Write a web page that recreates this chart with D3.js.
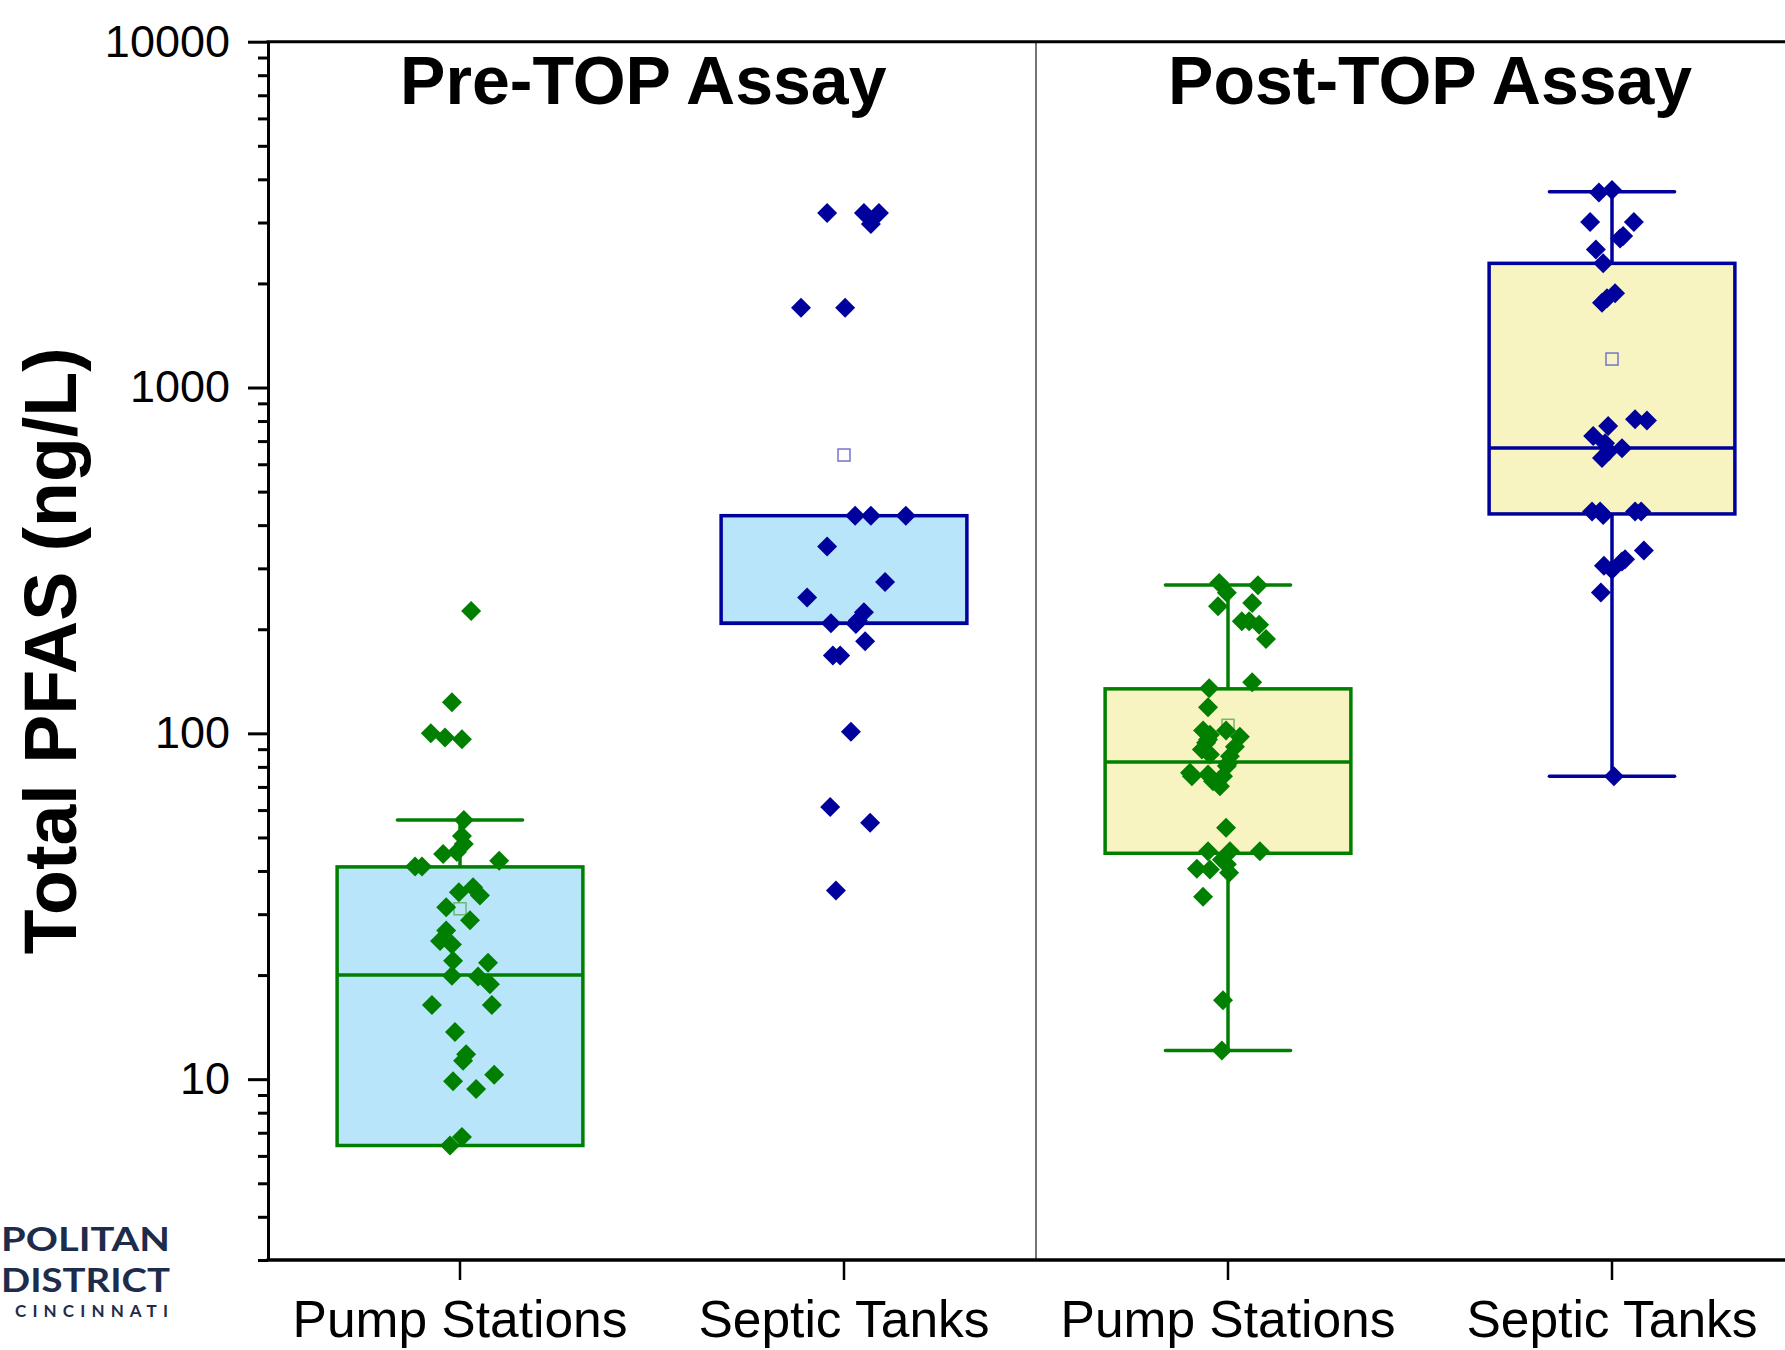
<!DOCTYPE html>
<html>
<head>
<meta charset="utf-8">
<script src="https://cdn.jsdelivr.net/npm/d3@7"></script>
<style>
  html, body { margin: 0; padding: 0; background: #ffffff; }
  svg { display: block; }
</style>
</head>
<body>
<svg id="chart" width="1785" height="1350"></svg>
<script>
// ---------------- DATA ----------------
const groups = ["prePump", "preSeptic", "postPump", "postSeptic"];
const categoryLabels = ["Pump Stations", "Septic Tanks", "Pump Stations", "Septic Tanks"];
const panelTitles = ["Pre-TOP Assay", "Post-TOP Assay"];
const yAxisTitle = "Total PFAS (ng/L)";
const yMajorTicks = [10, 100, 1000, 10000];
const yDomain = [3, 10000];

// box statistics per group (ng/L)
const boxQ1 = [6.43, 208, 45.0, 431];
const boxMedian = [20.0, 208, 82.7, 668];
const boxQ3 = [41.1, 426, 134.5, 2286];
const whiskerLow = [null, null, 12.1, 75.2];
const whiskerHigh = [56.2, null, 268.5, 3680];
const groupMean = [31.1, 638, 105.5, 1209];

// individual samples (ng/L) and their horizontal jitter (percent of category width)
const prePumpValues = [226, 123, 100, 97.3, 96.1, 56.2, 50.5, 47.9, 44.8, 45.4, 41.2, 41.2, 42.8, 34.7, 35.9, 34.0,
  31.4, 28.8, 26.9, 25.1, 24.5, 22.0, 21.7, 19.9, 19.8, 18.8, 16.4, 16.4, 13.7, 11.8, 11.3, 9.86, 10.3, 9.37, 6.80, 6.43];
const prePumpJitter = [2.9, -2.1, -7.6, -3.9, 0.5, 1.0, 0.5, 1.0, -4.4, -0.8, -11.7, -9.9, 10.2, -0.3, 3.4, 5.2,
  -3.6, 2.6, -3.6, -5.2, -2.1, -1.8, 7.3, -2.1, 4.7, 7.8, -7.3, 8.3, -1.3, 1.6, 0.8, -1.8, 8.9, 4.2, 0.5, -2.6];

const preSepticValues = [3199, 3199, 3199, 2970, 1702, 1702, 426, 426, 426, 347, 274, 247, 224, 208, 212, 207,
  184.5, 167.8, 167.8, 101, 61.2, 55.1, 35.1];
const preSepticJitter = [-4.4, 5.2, 9.1, 7.0, -11.2, 0.3, 2.9, 7.0, 16.1, -4.4, 10.7, -9.6, 5.2, -3.4, 3.6, 3.1,
  5.5, -2.9, -1.0, 1.8, -3.6, 6.8, -2.1];

const postPumpValues = [272, 255, 233, 268, 238, 211, 211, 206, 187.5, 140.5, 135, 119, 102, 102, 99, 97.7, 96, 94,
  91.4, 89.8, 86.9, 85.9, 82, 80.4, 76.9, 75.2, 76.0, 75.2, 72.7, 70.3, 53.3, 45.6, 45.6, 45.6, 43.1, 41.8, 40.6,
  40.4, 39.5, 33.7, 16.9, 12.1];
const postPumpJitter = [-2.3, -0.3, -2.6, 7.8, 6.3, 3.6, 5.5, 8.1, 9.9, 6.3, -4.9, -5.2, -6.5, -0.5, -4.7, 3.1, -5.2, -5.7,
  1.8, -6.8, -4.7, 0.5, 0, -0.3, -9.9, -9.4, -5.2, -1.3, -3.9, -2.1, -0.5, -5.2, 0.5, 8.3, -1.6, -0.3, -8.1,
  -4.7, 0.3, -6.5, -1.3, -1.6];

const postSepticValues = [3665, 3723, 3013, 3013, 2741, 2698, 2508, 2286, 1873, 1811, 1759, 809, 803, 774, 724, 690,
  667, 655, 625, 438, 438, 438, 438, 428, 338, 319, 314, 305, 297, 255.6, 75.2];
const postSepticJitter = [-3.4, 0, -5.7, 5.7, 2.9, 2.1, -4.2, -2.3, 0.8, -1.3, -2.6, 6.0, 9.1, -1.0, -4.9, -1.8,
  2.6, -0.8, -2.6, -5.2, -3.1, 6.0, 7.6, -2.3, 8.3, 3.4, 2.6, -2.1, 0, -2.9, 0.5];

const groupValues = [prePumpValues, preSepticValues, postPumpValues, postSepticValues];
const groupJitter = [prePumpJitter, preSepticJitter, postPumpJitter, postSepticJitter];

// ---------------- STYLE / LAYOUT ----------------
const W = 1785, H = 1350;
const plotLeft = 268, plotTop = 41.7, plotBottom = 1260, plotRight = 1804;
const GREEN = "#007F00", NAVY = "#00009C";
const strokeColors = [GREEN, NAVY, GREEN, NAVY];
const meanColors = ["#6DB86D", "#7474C8", "#6DB86D", "#7474C8"];
const fillColors = ["#B9E5FB", "#B9E5FB", "#F8F4C1", "#F8F4C1"];
const FONT = "'Liberation Sans', Arial, Helvetica, sans-serif";
const LINE_W = 3.5;

const svg = d3.select("#chart");
svg.append("rect").attr("width", W).attr("height", H).attr("fill", "#ffffff");

const x = d3.scaleBand().domain(groups).range([plotLeft, plotRight]).padding(0);
const y = d3.scaleLog().domain(yDomain).range([plotBottom, plotTop]);
const bw = x.bandwidth();

// panel separator
const sepX = x(groups[1]) + bw;
svg.append("line").attr("x1", sepX).attr("x2", sepX).attr("y1", y(yDomain[1])).attr("y2", y(yDomain[0]))
  .attr("stroke", "#3a3a3a").attr("stroke-width", 1.4);

// top frame line
svg.append("line").attr("x1", plotLeft - 1.5).attr("x2", plotRight).attr("y1", y(yDomain[1])).attr("y2", y(yDomain[1]))
  .attr("stroke", "#000").attr("stroke-width", 3);

// ---------- boxes ----------
const boxW = bw * 0.64, capW = bw * 0.326;
const gBox = svg.append("g");
groups.forEach((g, i) => {
  const cx = x(g) + bw / 2;
  const col = strokeColors[i];
  if (whiskerHigh[i] != null) {
    gBox.append("line").attr("x1", cx).attr("x2", cx).attr("y1", y(boxQ3[i])).attr("y2", y(whiskerHigh[i]))
      .attr("stroke", col).attr("stroke-width", LINE_W);
    gBox.append("line").attr("x1", cx - capW / 2).attr("x2", cx + capW / 2).attr("y1", y(whiskerHigh[i])).attr("y2", y(whiskerHigh[i]))
      .attr("stroke", col).attr("stroke-width", LINE_W).attr("stroke-linecap", "round");
  }
  if (whiskerLow[i] != null) {
    gBox.append("line").attr("x1", cx).attr("x2", cx).attr("y1", y(boxQ1[i])).attr("y2", y(whiskerLow[i]))
      .attr("stroke", col).attr("stroke-width", LINE_W);
    gBox.append("line").attr("x1", cx - capW / 2).attr("x2", cx + capW / 2).attr("y1", y(whiskerLow[i])).attr("y2", y(whiskerLow[i]))
      .attr("stroke", col).attr("stroke-width", LINE_W).attr("stroke-linecap", "round");
  }
  gBox.append("rect").attr("x", cx - boxW / 2).attr("y", y(boxQ3[i]))
    .attr("width", boxW).attr("height", y(boxQ1[i]) - y(boxQ3[i]))
    .attr("fill", fillColors[i]).attr("stroke", col).attr("stroke-width", LINE_W);
  gBox.append("line").attr("x1", cx - boxW / 2).attr("x2", cx + boxW / 2).attr("y1", y(boxMedian[i])).attr("y2", y(boxMedian[i]))
    .attr("stroke", col).attr("stroke-width", LINE_W);
  const s = 12;
  gBox.append("rect").attr("x", cx - s / 2).attr("y", y(groupMean[i]) - s / 2).attr("width", s).attr("height", s)
    .attr("fill", "none").attr("stroke", meanColors[i]).attr("stroke-width", 1.5);
});

// ---------- points ----------
const r = 10;
const diamond = `M0,${-r}L${r},0L0,${r}L${-r},0Z`;
const gPts = svg.append("g");
groups.forEach((g, i) => {
  const cx = x(g) + bw / 2;
  const pts = groupValues[i].map((v, k) => ({ v, j: groupJitter[i][k] }));
  gPts.selectAll(null).data(pts).enter().append("path")
    .attr("d", diamond)
    .attr("transform", d => `translate(${cx + d.j / 100 * bw},${y(d.v)})`)
    .attr("fill", strokeColors[i]);
});

// ---------- axes ----------
const minorTicks = [];
for (let e = 0; e <= 3; e++) for (let m = 2; m <= 9; m++) {
  const v = m * Math.pow(10, e);
  if (v >= yDomain[0] && v <= yDomain[1]) minorTicks.push(v);
}
const yAxisMinor = svg.append("g").attr("transform", `translate(${plotLeft},0)`)
  .call(d3.axisLeft(y).tickValues(minorTicks).tickSize(10).tickSizeOuter(0).tickFormat(""));
const yAxisMajor = svg.append("g").attr("transform", `translate(${plotLeft},0)`)
  .call(d3.axisLeft(y).tickValues(yMajorTicks).tickSize(20).tickSizeOuter(0).tickPadding(18).tickFormat(d3.format("d")));
[yAxisMinor, yAxisMajor].forEach(a => {
  a.selectAll("line").attr("stroke", "#000").attr("stroke-width", 3);
  a.select(".domain").attr("stroke", "#000").attr("stroke-width", 3);
});
yAxisMajor.selectAll("text").attr("font-family", FONT).attr("font-size", 45).attr("fill", "#000");

const xAxis = svg.append("g").attr("transform", `translate(0,${plotBottom})`)
  .call(d3.axisBottom(x).tickSize(20).tickSizeOuter(0).tickPadding(20).tickFormat((d, i) => categoryLabels[i]));
xAxis.select(".domain").attr("stroke", "#000").attr("stroke-width", 3.5)
  .attr("d", `M${plotLeft - 1.5},0H${plotRight}`);
xAxis.selectAll("line").attr("stroke", "#000").attr("stroke-width", 2.5);
xAxis.selectAll("text").attr("font-family", FONT).attr("font-size", 51.5).attr("fill", "#000");

// y axis title
svg.append("text")
  .attr("transform", `translate(76,${(y(yDomain[0]) + y(yDomain[1])) / 2}) rotate(-90)`)
  .attr("text-anchor", "middle")
  .attr("font-family", FONT).attr("font-weight", "bold").attr("font-size", 73.5).attr("fill", "#000")
  .text(yAxisTitle);

// panel titles
panelTitles.forEach((t, p) => {
  const left = x(groups[p * 2]);
  svg.append("text")
    .attr("x", left + bw * 0.344).attr("y", 104)
    .attr("font-family", FONT).attr("font-weight", "bold").attr("font-size", 68).attr("fill", "#000")
    .text(t);
});

// partial logo (bottom-left)
const LOGO = "#1E2C4C";
const logo = svg.append("g").attr("font-family", "Lato, 'Open Sans', sans-serif").attr("font-weight", "bold").attr("fill", LOGO);
logo.append("text").attr("x", 1).attr("y", 1251).attr("font-size", 33)
  .attr("textLength", 169).attr("lengthAdjust", "spacingAndGlyphs").text("POLITAN");
logo.append("text").attr("x", 1).attr("y", 1292).attr("font-size", 33)
  .attr("textLength", 169).attr("lengthAdjust", "spacingAndGlyphs").text("DISTRICT");
logo.append("text").attr("x", 15).attr("y", 1317).attr("font-size", 17)
  .attr("textLength", 153).attr("lengthAdjust", "spacing").text("CINCINNATI");
</script>
</body>
</html>
